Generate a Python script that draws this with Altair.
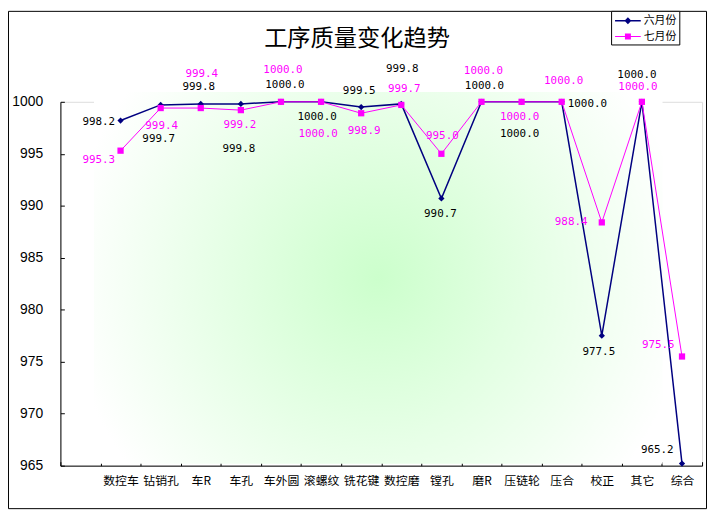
import altair as alt
import pandas as pd

# ---- data ----
title_text = "工序质量变化趋势"
categories = ["数控车", "钻销孔", "车R", "车孔", "车外圆", "滚螺纹", "铣花键", "数控磨",
              "镗孔", "磨R", "压链轮", "压合", "校正", "其它", "综合"]
series_names = ["六月份", "七月份"]
june = [998.2, 999.7, 999.8, 999.8, 1000.0, 1000.0, 999.5, 999.8,
        990.7, 1000.0, 1000.0, 1000.0, 977.5, 1000.0, 965.2]
july = [995.3, 999.4, 999.4, 999.2, 1000.0, 1000.0, 998.9, 999.7,
        995.0, 1000.0, 1000.0, 1000.0, 988.4, 1000.0, 975.5]
y_ticks = [965, 970, 975, 980, 985, 990, 995, 1000]

# label placement (pixel offsets from each point)
june_dx = [-22, -2, -2, -2, 4, -4, -2, 1, -1, 3, -2, 26, -3, -5, -25]
june_dy = [2, 35, -17, 46, -17, 15, -16, -35, 16, -16, 33, 2, 17, -27, -14]
july_dx = [-22, 1, 1, -1, 2, -3, 3, 3, 1, 2, -2, 2, -31, -4, -24]
july_dy = [9, 18, -34, 15, -32, 33, 18, -16, -18, -31, 15, -21, 0, -15, -12]

NAVY = "#000080"
MAGENTA = "#ff00ff"
CJK = "Noto Sans CJK SC"

W, H = 649, 368

df_june = pd.DataFrame({"cat": categories, "value": june, "dx": june_dx, "dy": june_dy})
df_july = pd.DataFrame({"cat": categories, "value": july, "dx": july_dx, "dy": july_dy})

x_enc = alt.X(
    "cat:N",
    sort=None,
    scale=alt.Scale(type="band", domain=[""] + categories, paddingInner=0, paddingOuter=0),
    axis=alt.Axis(
        title=None, labelAngle=0, labelFont=CJK, labelFontSize=12, labelColor="black",
        domainColor="black", tickColor="black", tickSize={"expr": "-4"}, tickBand="extent",
        labelPadding=14, grid=False, labelOverlap=False, labelFlush=False,
    ),
)
y_enc = alt.Y(
    "value:Q",
    scale=alt.Scale(domain=[965, 1000], nice=False, zero=False),
    axis=alt.Axis(
        title=None, values=y_ticks, format="d", labelFont="Liberation Sans", labelFontSize=14,
        labelColor="black", domainColor="black", tickColor="black",
        tickSize={"expr": "-4"}, labelPadding=22, grid=False, labelFlush=False,
    ),
)

one = pd.DataFrame({"t": [title_text]})

gradient = {
    "gradient": "radial",
    "x1": 0.5, "y1": 0.5, "r1": 0,
    "x2": 0.5, "y2": 0.5, "r2": 0.55,
    "stops": [
        {"offset": 0, "color": "#ccffcc"},
        {"offset": 1, "color": "#ffffff"},
    ],
}
bg = alt.Chart(one).mark_rect(fill=gradient, strokeWidth=0).encode(
    x=alt.value(34), x2=alt.value(609), y=alt.value(-10), y2=alt.value(366)
)

june_line = alt.Chart(df_june).mark_line(color=NAVY, strokeWidth=1.5).encode(x=x_enc, y=y_enc)
june_pts = alt.Chart(df_june).mark_point(shape="diamond", filled=True, color=NAVY, size=40, opacity=1).encode(x=x_enc, y=y_enc)
july_line = alt.Chart(df_july).mark_line(color=MAGENTA, strokeWidth=1).encode(x=x_enc, y=y_enc)
july_pts = alt.Chart(df_july).mark_point(shape="square", filled=True, color=MAGENTA, size=40, opacity=1).encode(x=x_enc, y=y_enc)

june_lbl = alt.Chart(df_june).mark_text(
    font="DejaVu Sans Mono", fontSize=11, color="black", align="center", baseline="middle",
    dx=alt.ExprRef("datum.dx"), dy=alt.ExprRef("datum.dy"),
).encode(x=x_enc, y=y_enc, text=alt.Text("value:Q", format=".1f"))
july_lbl = alt.Chart(df_july).mark_text(
    font="DejaVu Sans Mono", fontSize=11, color=MAGENTA, align="center", baseline="middle",
    dx=alt.ExprRef("datum.dx"), dy=alt.ExprRef("datum.dy"),
).encode(x=x_enc, y=y_enc, text=alt.Text("value:Q", format=".1f"))

title = alt.Chart(one).mark_text(
    font=CJK, fontSize=23.5, color="black", align="center", baseline="middle"
).encode(x=alt.value(300), y=alt.value(-63), text="t:N")

# legend (line + marker symbols)
sym_june = "M-1.857,-0.107H1.857V0.107H-1.857Z M0,-0.5L0.5,0L0,0.5L-0.5,0Z"
sym_july = "M-1.857,-0.07H1.857V0.07H-1.857Z M-0.43,-0.43H0.43V0.43H-0.43Z"
leg_props = dict(
    title=None, orient="none", legendX=557, legendY=-92, strokeColor="black",
    fillColor="white", padding=3, symbolSize=196, symbolOpacity=1, symbolStrokeWidth=0,
    symbolOffset=7, labelFont=CJK, labelFontSize=11, labelColor="black", labelOffset=9,
    rowPadding=4, cornerRadius=0,
)
df_leg = pd.DataFrame({"series": series_names})
legend_layer = alt.Chart(df_leg).mark_point(filled=True, opacity=0).encode(
    color=alt.Color("series:N", sort=series_names,
                    scale=alt.Scale(domain=series_names, range=[NAVY, MAGENTA]),
                    legend=alt.Legend(**leg_props)),
    shape=alt.Shape("series:N", sort=series_names,
                    scale=alt.Scale(domain=series_names, range=[sym_june, sym_july]),
                    legend=alt.Legend(**leg_props)),
)

border = alt.Chart(one).mark_rect(fill=None, stroke="black", strokeWidth=1).encode(
    x=alt.value(-52.5), x2=alt.value(653.5), y=alt.value(-91.5), y2=alt.value(411.5)
)

chart = alt.layer(
    bg, june_line, june_pts, july_line, july_pts, june_lbl, july_lbl, title, legend_layer, border
).properties(
    width=W, height=H,
    padding={"left": 53, "top": 92, "right": 5, "bottom": 44},
    autosize=alt.AutoSizeParams(type="none"),
).configure_view(stroke=None).configure(background="white")

chart.save("out.html", embed_options={"renderer": "svg", "actions": False})
